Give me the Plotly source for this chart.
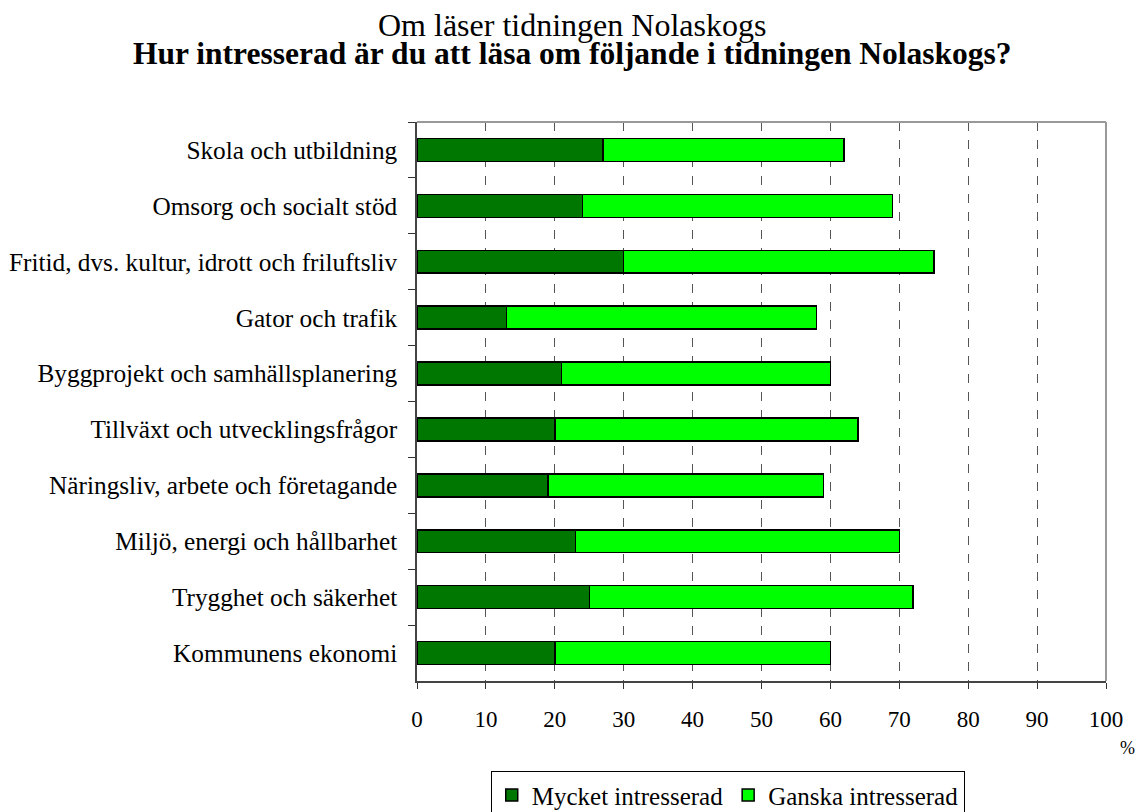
import plotly.graph_objects as go

# data (percent)
categories = [
    "Skola och utbildning",
    "Omsorg och socialt stöd",
    "Fritid, dvs. kultur, idrott och friluftsliv",
    "Gator och trafik",
    "Byggprojekt och samhällsplanering",
    "Tillväxt och utvecklingsfrågor",
    "Näringsliv, arbete och företagande",
    "Miljö, energi och hållbarhet",
    "Trygghet och säkerhet",
    "Kommunens ekonomi",
]
mycket = [27, 24, 30, 13, 21, 20, 19, 23, 25, 20]
ganska = [35, 45, 45, 45, 39, 44, 40, 47, 47, 40]
x_ticks = [0, 10, 20, 30, 40, 50, 60, 70, 80, 90, 100]

FONT = "Liberation Serif, Times New Roman, serif"

fig = go.Figure()
fig.add_trace(go.Bar(
    y=categories, x=mycket, orientation="h", name="Mycket intresserad",
    marker=dict(color="#007700", line=dict(color="black", width=1.5)),
))
fig.add_trace(go.Bar(
    y=categories, x=ganska, orientation="h", name="Ganska intresserad",
    marker=dict(color="#00ff00", line=dict(color="black", width=1.5)),
))

fig.update_layout(
    barmode="stack",
    bargap=0.59,
    width=1144, height=812,
    margin=dict(l=409, r=46, t=114, b=139),
    paper_bgcolor="white", plot_bgcolor="white",
    font=dict(family=FONT, size=23, color="black"),
    legend=dict(
        orientation="h", traceorder="normal",
        xref="paper", yref="container",
        x=0.451, xanchor="center", y=0.06, yanchor="top",
        bordercolor="black", borderwidth=1, font=dict(size=25),
        itemwidth=30, tracegroupgap=0,
    ),
    showlegend=True,
)

# two-line title
fig.add_annotation(text="Om läser tidningen Nolaskogs", xref="paper", yref="paper",
                   x=0.225, y=1.173, xanchor="center", yanchor="middle",
                   showarrow=False, font=dict(family=FONT, size=32))
fig.add_annotation(text="<b>Hur intresserad är du att läsa om följande i tidningen Nolaskogs?</b>",
                   xref="paper", yref="paper", x=0.225, y=1.123,
                   xanchor="center", yanchor="middle", showarrow=False,
                   font=dict(family=FONT, size=31.5))

fig.update_xaxes(
    range=[0, 100], tickvals=x_ticks, ticks="outside", ticklen=6,
    tickcolor="#333", showline=True, linecolor="#444", linewidth=1.5,
    showgrid=True, gridcolor="#555", griddash="dash", gridwidth=1,
    zeroline=False, ticklabelstandoff=11, tickfont=dict(size=23),
    automargin=False,
)
fig.update_yaxes(
    categoryorder="array", categoryarray=categories, autorange="reversed",
    ticks="outside", tickson="boundaries", ticklen=7, tickcolor="#333",
    showline=True, linecolor="#444", linewidth=1.5, showgrid=False,
    ticklabelstandoff=13, tickfont=dict(size=25.3), automargin=False,
)

# gray frame on top and right
fig.add_shape(type="line", xref="paper", yref="paper", x0=0, x1=1, y0=1, y1=1,
              line=dict(color="#999", width=2))
fig.add_shape(type="line", xref="paper", yref="paper", x0=1, x1=1, y0=0, y1=1,
              line=dict(color="#999", width=2))

fig.add_annotation(text="%", xref="paper", yref="paper", x=1.0305, y=-0.12,
                   xanchor="center", yanchor="middle", showarrow=False,
                   font=dict(family=FONT, size=18))

fig.write_html("out.html")
